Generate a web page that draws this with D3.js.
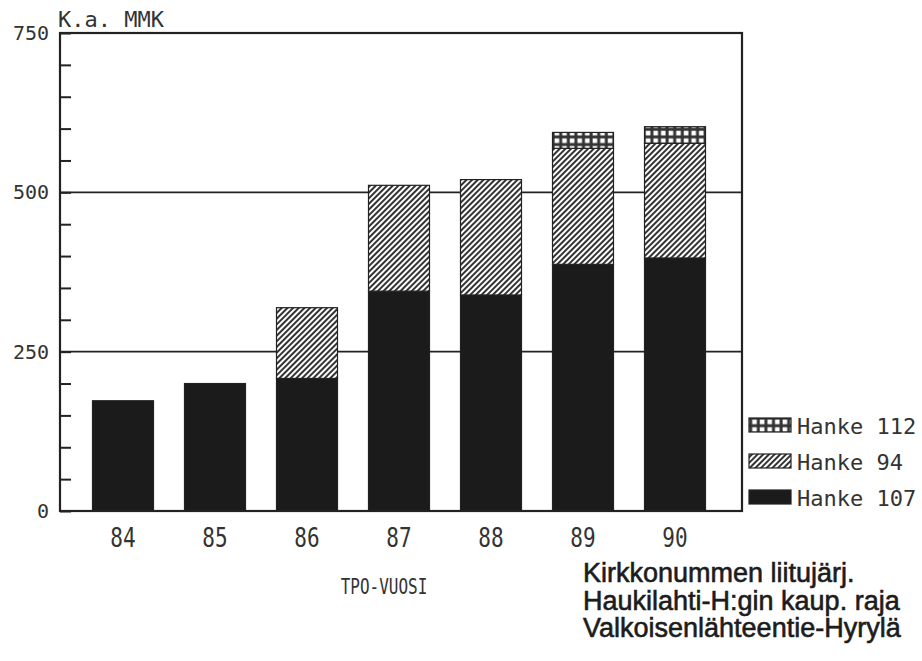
<!DOCTYPE html>
<html><head><meta charset="utf-8">
<script src="https://cdn.jsdelivr.net/npm/d3@7"></script>
<style>body{margin:0;background:#fff}svg{display:block}</style></head>
<body><svg id="c" width="922" height="661"></svg>
<script>
const years = ["84","85","86","87","88","89","90"];
const hanke107 = [173,200,208,345,339,387,397];
const hanke94  = [0,0,111,166,181,182,180];
const hanke112 = [0,0,0,0,0,25,26];
const yTicks = [0,250,500,750];
const seriesNames = ["Hanke 107","Hanke 94","Hanke 112"];
const legendLabels = ["Hanke 112","Hanke 94","Hanke 107"];
const captionLines = ["Kirkkonummen liitujärj.","Haukilahti-H:gin kaup. raja","Valkoisenlähteentie-Hyrylä"];
const yTitle = "K.a. MMK";
const xTitle = "TPO-VUOSI";

const svg = d3.select("#c");
const ink = "#222";
const plotFont = "'DejaVu Sans Mono', monospace";
const L = 60, R = 742, T = 33, B = 511;

const defs = svg.append("defs");
const hatch = defs.append("pattern").attr("id","hatch").attr("patternUnits","userSpaceOnUse")
  .attr("width",4).attr("height",4).attr("patternTransform","rotate(45)");
hatch.append("rect").attr("width",4).attr("height",4).attr("fill","#fff");
hatch.append("line").attr("x1",1).attr("y1",-1).attr("x2",1).attr("y2",5).attr("stroke","#333").attr("stroke-width",2);
const grid = defs.append("pattern").attr("id","grid").attr("patternUnits","userSpaceOnUse")
  .attr("width",7.6).attr("height",7.6).attr("x",553).attr("y",0);
grid.append("rect").attr("width",7.6).attr("height",7.6).attr("fill","#333");
grid.append("rect").attr("x",1.6).attr("y",1.6).attr("width",4.6).attr("height",4.6).attr("fill","#fff");

const x = d3.scaleBand().domain(years).range([58,740]).paddingInner(0.337).paddingOuter(0.375);
const y = d3.scaleLinear().domain([0,750]).range([B,T]);

const data = years.map((yr,i)=>({year:yr,"Hanke 107":hanke107[i],"Hanke 94":hanke94[i],"Hanke 112":hanke112[i]}));
const stack = d3.stack().keys(seriesNames)(data);
const fills = {"Hanke 107":"#1b1b1b","Hanke 94":"url(#hatch)","Hanke 112":"url(#grid)"};

// gridlines
svg.append("g").selectAll("line").data([250,500]).join("line")
  .attr("x1",L).attr("x2",R).attr("y1",d=>y(d)).attr("y2",d=>y(d))
  .attr("stroke",ink).attr("stroke-width",1.8);

// bars
svg.append("g").selectAll("g").data(stack).join("g")
  .attr("fill",d=>fills[d.key])
  .selectAll("rect").data(d=>d.filter(s=>s[1]-s[0]>0)).join("rect")
  .attr("x",d=>x(d.data.year)).attr("width",x.bandwidth())
  .attr("y",d=>y(d[1])).attr("height",d=>y(d[0])-y(d[1]))
  .attr("stroke",ink).attr("stroke-width",1.2);

// frame
svg.append("rect").attr("x",L).attr("y",T).attr("width",R-L).attr("height",B-T)
  .attr("fill","none").attr("stroke",ink).attr("stroke-width",2.2);

// y axis (inner ticks every 50)
const yAxis = d3.axisRight(y).tickValues(d3.range(0,751,50)).tickSize(11).tickFormat("");
const ga = svg.append("g").attr("transform",`translate(${L},0)`).call(yAxis);
ga.select(".domain").remove();
ga.selectAll("line").attr("stroke",ink).attr("stroke-width",2);

// y labels
svg.append("g").selectAll("text").data(yTicks).join("text")
  .attr("x",49).attr("y",d=>y(d)+7).attr("text-anchor","end")
  .attr("font-family",plotFont).attr("font-size",20).attr("fill","#333").text(d=>d);

svg.append("text").attr("x",58).attr("y",27).attr("font-family",plotFont).attr("font-size",22)
  .attr("fill","#333").text(yTitle);

// x labels (tall, narrow plotter lettering)
const gx = svg.append("g");
gx.selectAll("text").data(years).join("text")
  .attr("transform",d=>`translate(${x(d)+x.bandwidth()/2},547) scale(1,1.25)`)
  .attr("text-anchor","middle").attr("font-family",plotFont).attr("font-size",21)
  .attr("fill","#333").text(d=>d);

svg.append("text").attr("transform","translate(384,594) scale(1,1.35)").attr("text-anchor","middle")
  .attr("font-family",plotFont).attr("font-size",16).attr("fill","#333").text(xTitle);

// legend
const lg = svg.append("g");
const legFill = {"Hanke 112":"url(#grid)","Hanke 94":"url(#hatch)","Hanke 107":"#1b1b1b"};
legendLabels.forEach((k,i)=>{
  const cy = 425 + i*36;
  lg.append("rect").attr("x",749).attr("y",cy-7).attr("width",42).attr("height",14)
    .attr("fill",legFill[k]).attr("stroke",ink).attr("stroke-width",1.2);
  lg.append("text").attr("x",797).attr("y",cy+9).attr("font-family",plotFont).attr("font-size",22)
    .attr("fill","#333").text(k);
});

// caption
svg.append("g").selectAll("text").data(captionLines).join("text")
  .attr("x",583).attr("y",(d,i)=>582+i*27.5)
  .attr("font-family","'Liberation Sans', Arial, sans-serif").attr("font-size",27)
  .attr("fill","#1c1c1c").attr("stroke","#1c1c1c").attr("stroke-width",0.6).text(d=>d);
</script></body></html>
